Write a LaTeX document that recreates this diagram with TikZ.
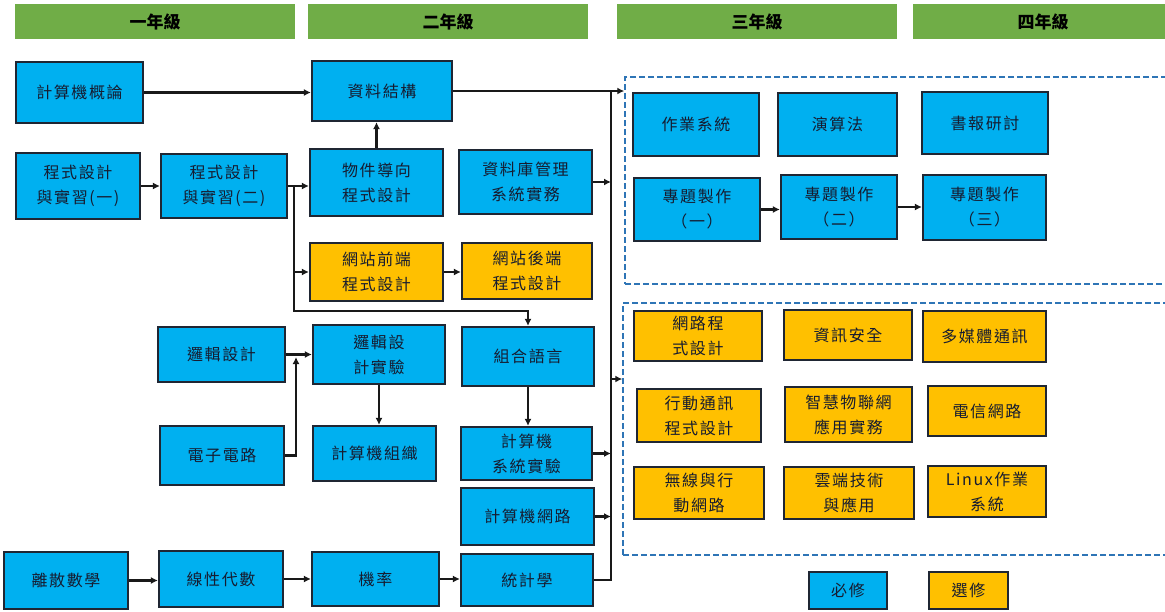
\documentclass[tikz,border=0pt]{standalone}
\usepackage{fontspec}
\newfontfamily\cjk[LetterSpace=10]{Noto Sans CJK TC}
\newfontfamily\cjkh{Noto Sans CJK TC}
\usetikzlibrary{arrows.meta}
\definecolor{reqc}{HTML}{00B0F0}
\definecolor{optc}{HTML}{FFC000}
\definecolor{grn}{HTML}{70AD47}
\definecolor{boxedge}{HTML}{1F2633}
\definecolor{dashblue}{HTML}{2E75B6}
\definecolor{txt}{HTML}{161C30}
\begin{document}
\begin{tikzpicture}[x=1pt,y=-1pt,
  base/.style={draw=boxedge, line width=2.2pt, inner sep=0pt, align=center,
    font=\cjk\fontsize{16}{25}\selectfont, text=txt},
  req/.style={base, fill=reqc},
  opt/.style={base, fill=optc},
  hdr/.style={fill=grn, inner sep=0pt, minimum height=35pt,
    font=\cjkh\bfseries\fontsize{17}{20}\selectfont, text=black},
  sz/.style 2 args={minimum width=#1pt, minimum height=#2pt},
  grp/.style={draw=dashblue, line width=1.5pt, dash pattern=on 6pt off 3pt, inner sep=0pt},
  conn/.style={draw=black!90, line width=2.2pt},
  arr/.style={conn, -{Latex[length=7pt,width=7pt]}}
]
\fill[white] (0,0) rectangle (1165,611);
\useasboundingbox (0,0) rectangle (1165,611);

% headers
\node[hdr, minimum width=280pt] (y1) at (155,21.5) {一年級};
\node[hdr, minimum width=280pt] (y2) at (448,21.5) {二年級};
\node[hdr, minimum width=280pt] (y3) at (757,21.5) {三年級};
\node[hdr, minimum width=260pt] (y4) at (1043,21.5) {四年級};

% group frames
\node[grp, sz={550}{207}] (grp1) at (900,180.5) {};
\node[grp, sz={552}{252}] (grp2) at (899,429) {};

% year 1-2 courses
\node[req, sz={127}{61}] (intro) at (79.5,92.5) {計算機概論};
\node[req, sz={140}{60}] (ds) at (382,91) {資料結構};
\node[req, sz={124}{66}] (prog1) at (78,186) {程式設計\\與實習(一)};
\node[req, sz={126}{64}] (prog2) at (224,186) {程式設計\\與實習(二)};
\node[req, sz={133}{67}] (oop) at (376.5,182.5) {物件導向\\程式設計};
\node[req, sz={133}{64}] (db) at (525.5,182) {資料庫管理\\系統實務};
\node[opt, sz={133}{58}] (web1) at (376.5,272) {網站前端\\程式設計};
\node[opt, sz={130}{56}] (web2) at (527,271) {網站後端\\程式設計};
\node[req, sz={127}{55}] (logic) at (221.5,354.5) {邏輯設計};
\node[req, sz={132}{59}] (logiclab) at (379,354.5) {邏輯設\\計實驗};
\node[req, sz={132}{59}] (asm) at (528,356.5) {組合語言};
\node[req, sz={124}{59}] (elec) at (222,455.5) {電子電路};
\node[req, sz={123}{55}] (org) at (374.5,453.5) {計算機組織};
\node[req, sz={131}{53}] (syslab) at (526.5,453.5) {計算機\\系統實驗};
\node[req, sz={133}{57}] (net) at (527.5,516.5) {計算機網路};
\node[req, sz={124}{57}] (disc) at (66,580.5) {離散數學};
\node[req, sz={124}{56}] (linalg) at (221,579) {線性代數};
\node[req, sz={127}{54}] (prob) at (375.5,579) {機率};
\node[req, sz={132}{52}] (stat) at (527,580) {統計學};

% year 3-4 required
\node[req, sz={126}{63}] (os) at (696,124.5) {作業系統};
\node[req, sz={119}{63}] (algo) at (837.5,124.5) {演算法};
\node[req, sz={126}{62}] (sem) at (985,123) {書報研討};
\node[req, sz={126}{63}] (proj1) at (697,209.5) {專題製作\\（一）};
\node[req, sz={116}{64}] (proj2) at (839,207) {專題製作\\（二）};
\node[req, sz={123}{65}] (proj3) at (984.5,207.5) {專題製作\\（三）};

% year 3-4 electives
\node[opt, sz={128}{50}] (netprog) at (698,336) {網路程\\式設計};
\node[opt, sz={128}{50}] (sec) at (848,335) {資訊安全};
\node[opt, sz={123}{51}] (mm) at (984.5,336.5) {多媒體通訊};
\node[opt, sz={124}{53}] (mob) at (699,415.5) {行動通訊\\程式設計};
\node[opt, sz={127}{55}] (iot) at (848.5,414.5) {智慧物聯網\\應用實務};
\node[opt, sz={118}{50}] (tel) at (987,411) {電信網路};
\node[opt, sz={130}{52}] (wls) at (699,493) {無線與行\\動網路};
\node[opt, sz={130}{52}] (cloud) at (849,493) {雲端技術\\與應用};
\node[opt, sz={118}{51}] (linux) at (987,491.5) {Linux作業\\系統};

% legend
\node[req, sz={78}{37}] (lreq) at (848,590.5) {必修};
\node[opt, sz={79}{37}] (lopt) at (968.5,590.5) {選修};

% connectors
\coordinate (vtop) at (611,91);
\coordinate (vbot) at (611,580);
\coordinate (vmid) at (611,379);
\coordinate (br) at (294,186);
\coordinate (bend1) at (294,311);
\coordinate (bend2) at (528,311);
\coordinate (jn) at (296,357);

\draw[conn] (stat.east) -- (vbot) -- (vtop);
\draw[arr] (ds.east) -- (vtop -| grp1.west);
\draw[arr] (vmid) -- (vmid -| grp2.west);
\draw[arr] (db.east) -- (db.east -| vtop);
\draw[arr] (syslab.east) -- (syslab.east -| vtop);
\draw[arr] (net.east) -- (net.east -| vtop);

\draw[arr] (intro.east) -- (intro.east -| ds.west);
\draw[arr] (oop.north) -- (oop.north |- ds.south);
\draw[arr] (prog1.east) -- (prog1.east -| prog2.west);
\draw[arr] (prog2.east) -- (prog2.east -| oop.west);
\draw[arr] (br) -- (bend1) -- (bend2) -- (asm.north);
\draw[arr] (br |- web1.west) -- (web1.west);
\draw[arr] (web1.east) -- (web1.east -| web2.west);

\draw[arr] (logic.east) -- (logic.east -| logiclab.west);
\draw[arr] (elec.east) -| (jn);
\draw[arr] (logiclab.south) -- (logiclab.south |- org.north);
\draw[arr] (asm.south) -- (asm.south |- syslab.north);

\draw[arr] (disc.east) -- (disc.east -| linalg.west);
\draw[arr] (linalg.east) -- (linalg.east -| prob.west);
\draw[arr] (prob.east) -- (prob.east -| stat.west);

\draw[arr] (proj1.east) -- (proj1.east -| proj2.west);
\draw[arr] (proj2.east) -- (proj2.east -| proj3.west);
\end{tikzpicture}
\end{document}
